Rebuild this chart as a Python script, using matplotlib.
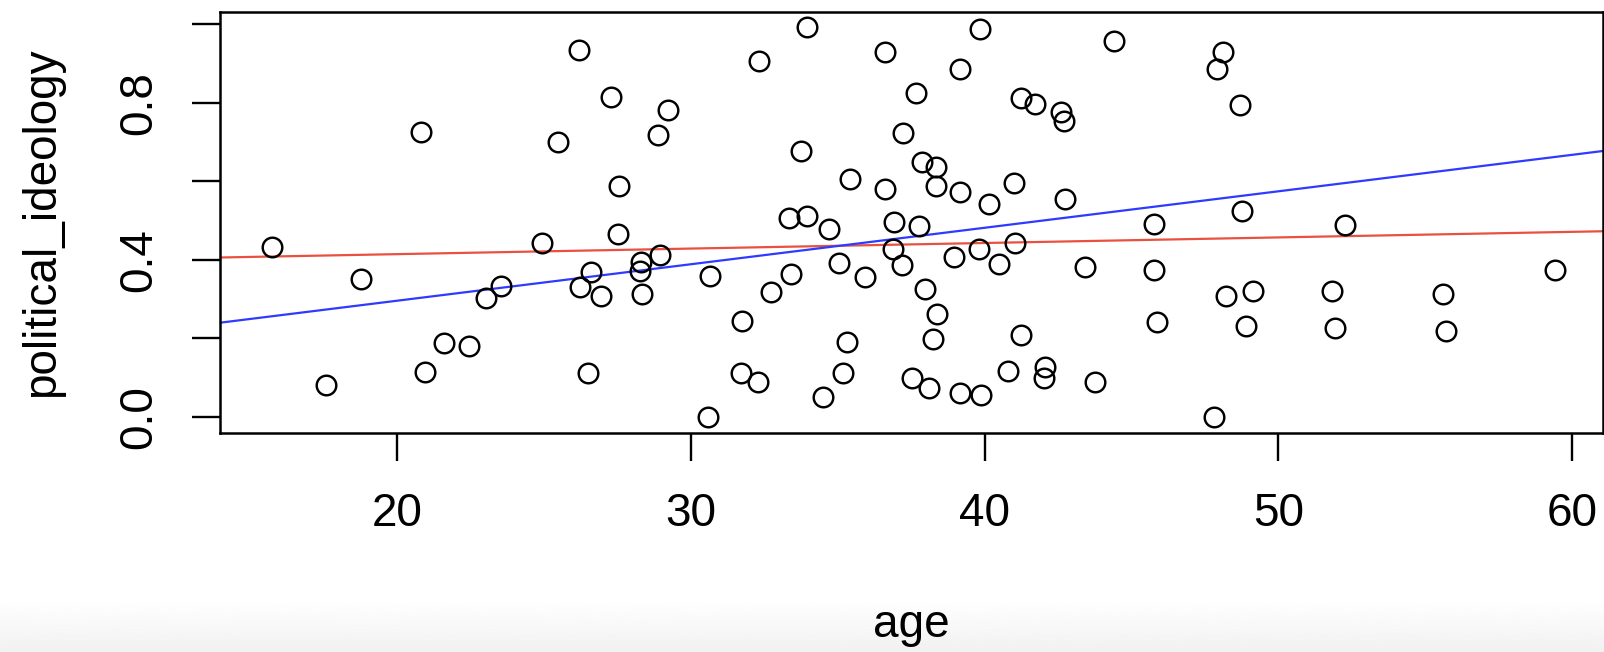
import numpy as np
import matplotlib.pyplot as plt

plt.rcParams['font.family'] = ['Liberation Sans', 'DejaVu Sans']

# data
age = [26.19, 27.29, 29.21, 20.81, 25.47, 28.89, 27.54, 27.52, 15.73, 24.93,
       18.77, 26.60, 26.21, 26.92, 23.54, 23.03, 28.31, 28.25, 28.34, 28.93,
       21.58, 22.45, 20.96, 17.58, 26.50,
       33.95, 32.33, 36.60, 39.84, 39.15, 44.40, 37.65, 41.25, 41.71, 42.61,
       42.70, 37.21, 33.73, 37.88, 38.34, 38.33, 35.41, 36.60, 39.17, 40.99,
       40.15, 42.74, 33.34, 33.96, 34.71, 36.90, 37.77, 36.87, 39.80, 41.02,
       38.97, 37.18, 35.05, 40.49, 35.92, 30.66, 33.39, 32.71, 43.42, 37.96,
       38.37, 31.74, 35.31, 38.24, 41.22, 31.71, 32.29, 35.18, 37.53, 38.11,
       39.17, 39.89, 40.80, 42.06, 42.01, 43.74, 34.50, 30.59,
       48.10, 47.92, 48.70, 48.77, 45.78, 52.27, 45.77, 48.21, 49.13, 51.84,
       55.60, 59.42, 45.86, 48.91, 51.91, 55.72, 47.80]
political_ideology = [0.935, 0.814, 0.782, 0.725, 0.700, 0.718, 0.589, 0.466, 0.432, 0.442,
                      0.350, 0.368, 0.331, 0.307, 0.333, 0.303, 0.395, 0.372, 0.314, 0.412,
                      0.189, 0.181, 0.113, 0.081, 0.111,
                      0.994, 0.906, 0.929, 0.989, 0.886, 0.957, 0.824, 0.813, 0.798, 0.777,
                      0.754, 0.723, 0.678, 0.648, 0.636, 0.589, 0.606, 0.580, 0.573, 0.596,
                      0.541, 0.556, 0.507, 0.511, 0.478, 0.496, 0.487, 0.428, 0.428, 0.444,
                      0.406, 0.386, 0.391, 0.390, 0.357, 0.359, 0.364, 0.319, 0.381, 0.325,
                      0.262, 0.245, 0.190, 0.199, 0.209, 0.112, 0.089, 0.111, 0.099, 0.073,
                      0.061, 0.056, 0.116, 0.128, 0.100, 0.088, 0.051, 0.000,
                      0.930, 0.886, 0.795, 0.524, 0.491, 0.488, 0.374, 0.309, 0.320, 0.321,
                      0.313, 0.373, 0.241, 0.232, 0.226, 0.218, 0.000]

# fitted lines (intercept, slope)
red_line = (0.386, 0.00142)
blue_line = (0.110, 0.00929)

x_ticks = [20, 30, 40, 50, 60]
y_ticks = [0.0, 0.2, 0.4, 0.6, 0.8, 1.0]
y_ticklabels = ['0.0', '', '0.4', '', '0.8', '']

W, H = 1604, 652
fig = plt.figure(figsize=(W / 100, H / 100), dpi=100)

# light grey band at the bottom of the screenshot
band = fig.add_axes([0, 0, 1, 52 / H], zorder=0)
grad = np.linspace(1.0, 0.945, 64).reshape(-1, 1)
band.imshow(grad, aspect='auto', cmap='gray', vmin=0, vmax=1, extent=[0, 1, 0, 1])
band.axis('off')

ax = fig.add_axes([220 / W, 1 - 433.3 / H, (1603 - 220) / W, (433.3 - 11.7) / H], zorder=1)
ax.patch.set_alpha(0)

ax.plot(age, political_ideology, 'o', mfc='none', mec='black', ms=14.1, mew=1.75, zorder=3)

ax.axline((0, red_line[0]), slope=red_line[1], color='#e9503f', lw=1.6, zorder=2)
ax.axline((0, blue_line[0]), slope=blue_line[1], color='#2f3aff', lw=1.6, zorder=2)

ax.set_xlim(13.964, 61.05)
ax.set_ylim(-0.042, 1.032)

ax.set_xticks(x_ticks)
ax.set_yticks(y_ticks)
ax.set_yticklabels(y_ticklabels, rotation=90, va='center')

for s in ax.spines.values():
    s.set_linewidth(1.8)
ax.tick_params(axis='both', length=20, width=1.7, labelsize=33, pad=22, colors='black')

fig.text(42 / W, 1 - 222 / H, 'political_ideology', rotation=90, ha='center', va='center', fontsize=33)
fig.text(911 / W, 1 - 637 / H, 'age', ha='center', va='baseline', fontsize=33)

fig.savefig('out.png', dpi=100)
